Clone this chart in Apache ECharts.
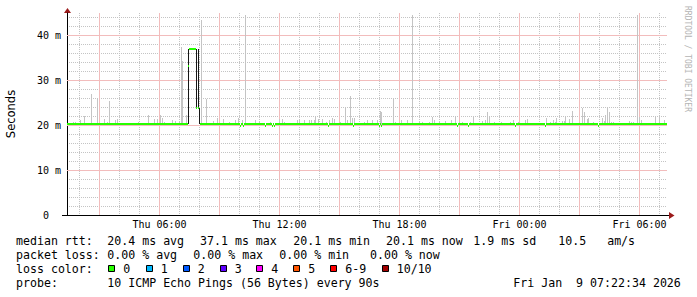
<!DOCTYPE html>
<html><head><meta charset="utf-8">
<script src="https://cdn.jsdelivr.net/npm/echarts@6/dist/echarts.min.js"></script>
<style>html,body{margin:0;padding:0;background:#fff}#c{width:697px;height:297px}</style>
</head><body><div id="c"></div>
<script>
// ---- time axis: hours since Thu 00:00 ----
const startHour = 1 + 22/60 + 34/3600;   // Thu 01:22:34
const endHour = startHour + 30;          // Fri 07:22:34
const stepHours = 0.05;                  // 3 min consolidation step

const xTickHours = [6, 12, 18, 24, 30];
const xTickLabels = ['Thu 06:00', 'Thu 12:00', 'Thu 18:00', 'Fri 00:00', 'Fri 06:00'];
const yTickValues = [0, 10, 20, 30, 40];
const yTickLabels = ['0\u00a0\u00a0', '10 m', '20 m', '30 m', '40 m'];
const yMax = 44.9;

// ---- median rtt (ms): value holds from each time until the next (null = no line) ----
const medianTimes = [1.38, 7.43, 7.48, 7.83, 7.88, 7.93, 7.98, 8.03,
  10.03, 10.08, 10.18, 10.23, 11.28, 11.33, 11.63, 11.68, 11.73, 11.78,
  14.43, 14.48, 15.68, 15.73, 16.98, 17.03, 17.08, 17.13, 20.88, 20.93,
  21.43, 21.48, 23.78, 23.83, 25.28, 25.33, 27.93, 27.98];
const medianValues = [20.2, 33.1, 37.0, 23.8, null, 23.8, null, 20.2,
  19.8, 20.2, 19.8, 20.2, 19.8, 20.2, 19.8, 20.2, 19.8, 20.2,
  19.8, 20.2, 19.8, 20.2, 19.8, 20.2, 19.8, 20.2, 19.8, 20.2,
  19.8, 20.2, 19.8, 20.2, 19.8, 20.2, 19.8, 20.2];

// ---- smoke (ping spread, ms): light grey ----
const smokeFloor = 20.0;
const smokeTimes = [1.68, 1.78, 2.03, 2.23, 2.53, 2.58, 2.73, 2.88, 3.23, 3.38, 3.48, 3.78, 3.88, 4.28, 4.93,
  5.43, 5.73, 5.88, 6.03, 6.13, 6.23, 6.63, 6.78, 6.98, 7.08, 7.13, 7.33, 8.08, 8.33, 8.68, 8.88, 9.18,
  9.48, 9.78, 9.93, 10.13, 10.28, 10.48, 10.78, 10.98, 11.23, 11.53, 11.98, 12.13, 12.23, 12.58, 12.88,
  12.98, 13.23, 13.48, 13.58, 13.73, 13.78, 13.93, 14.13, 14.33, 14.48, 14.63, 14.73, 14.88, 15.03, 15.28,
  15.38, 15.53, 15.63, 15.73, 15.83, 16.23, 16.38, 16.63, 16.88, 17.03, 17.08, 17.28, 17.68, 17.78, 18.08,
  18.38, 18.63, 18.98, 19.13, 19.48, 19.63, 19.73, 19.98, 20.28, 20.58, 20.78, 20.98, 21.13, 21.53, 21.68,
  22.13, 22.28, 22.38, 22.48, 22.73, 23.08, 23.13, 23.53, 23.68, 23.93, 24.28, 24.38, 24.93, 25.08, 25.33,
  25.53, 25.68, 25.78, 25.83, 26.13, 26.23, 26.28, 26.48, 26.63, 27.13, 27.23, 27.38, 27.43, 27.68, 27.98,
  28.13, 28.23, 28.28, 28.38, 28.48, 28.58, 28.68, 29.48, 29.58, 29.68, 29.88, 29.98, 30.08, 30.38, 30.78,
  30.98, 31.23];
const smokeTops = [20.7, 20.7, 21.1, 22.0, 20.5, 26.9, 20.5, 25.9, 21.3, 20.6, 25.4, 21.1, 21.3, 20.5, 20.6,
  22.2, 21.3, 21.3, 22.2, 21.5, 20.7, 21.1, 21.0, 20.6, 37.4, 34.2, 22.2, 43.3, 25.7, 20.9, 21.5, 21.3,
  20.6, 21.1, 21.5, 21.1, 44.4, 20.5, 21.1, 20.6, 20.3, 20.7, 21.3, 21.3, 20.7, 20.5, 21.1,
  21.1, 21.1, 21.1, 21.1, 21.1, 21.7, 21.3, 21.3, 20.7, 21.1, 21.5, 21.3, 20.5, 20.7, 23.9,
  21.1, 26.5, 21.5, 21.5, 20.5, 20.7, 21.1, 21.1, 21.1, 23.2, 22.9, 20.5, 25.8, 20.7, 21.1,
  21.1, 44.4, 20.7, 20.7, 20.7, 21.7, 21.1, 20.7, 21.0, 21.1, 21.7, 20.7, 20.7, 20.7, 21.7,
  21.0, 21.1, 23.0, 21.7, 20.7, 20.7, 20.5, 20.7, 21.1, 20.7, 21.1, 21.3, 20.5, 20.5, 21.5,
  20.7, 21.1, 20.7, 21.5, 21.0, 21.0, 21.7, 21.3, 23.2, 23.7, 23.0, 21.3, 21.5, 20.7, 20.5,
  21.5, 21.0, 22.2, 23.7, 23.0, 20.7, 20.7, 21.0, 20.7, 20.7, 44.4, 21.7, 21.1, 20.5, 21.7,
  21.5, 21.1];

// ---- dense smoke during the latency jump (dark) ----
const darkTimes = [7.43, 7.83, 7.93, 7.98];
const darkLows = [20.2, 23.8, 23.6, 20.2];
const darkHighs = [37.0, 37.0, 37.0, 23.8];

// ---- legend texts ----
const rttLegend = ['median rtt:', '20.4 ms avg', '37.1 ms max', '20.1 ms min', '20.1 ms now', '1.9 ms sd', '10.5\u00a0\u00a0\u00a0am/s'];
const lossLegend = ['packet loss:', '0.00 % avg', '0.00 % max', '0.00 % min', '0.00 % now'];
const lossColorTitle = 'loss color:';
const lossColorLabels = ['0', '1', '2', '3', '4', '5', '6-9', '10/10'];
const lossColors = ['#26ff00', '#00b8ff', '#0059ff', '#5e00ff', '#ff00ff', '#ff5500', '#ff0000', '#a00000'];
const probeLegend = ['probe:', '10 ICMP Echo Pings (56 Bytes) every 90s', 'Fri Jan\u00a0\u00a09 07:22:34 2026'];
const watermark = 'RRDTOOL / TOBI OETIKER';
const yTitle = 'Seconds';

// ================= layout / rendering =================
const G = {left: 67, top: 13, width: 600, height: 202};
const pxPerHour = G.width / (endHour - startHour);
const vMinorMin = 2, vMinorMax = 31, vMinorStep = 1;
const vMajorMin = 3, vMajorMax = 30, vMajorStep = 3;
const minorC = '#c4c4c4', majorC = '#f2bcbc';
const dots = [1, 1];
const mono = '"DejaVu Sans Mono", monospace';

const medianRuns = [];
medianTimes.forEach((t, i) => {
  const v = medianValues[i];
  if (v === null) return;
  const t1 = i + 1 < medianTimes.length ? medianTimes[i + 1] : endHour;
  medianRuns.push([t, v, t1]);
});

function barItem(color) {
  return function (params, api) {
    const t = api.value(0), lo = api.value(1), hi = api.value(2);
    const p0 = api.coord([t, hi]);
    const p1 = api.coord([t + stepHours, lo]);
    const x = Math.round(p0[0]);
    const w = Math.max(1, Math.round(p1[0]) - x);
    const y = Math.round(p0[1]);
    return {type: 'rect', shape: {x: x, y: y, width: w, height: Math.max(1, Math.round(p1[1]) - y)},
      style: {fill: color}};
  };
}

const graphic = [];
graphic.push({type: 'text', x: 11, y: 114, rotation: Math.PI / 2,
  style: {text: yTitle, font: '11.5px "DejaVu Sans"', fill: '#000', align: 'center', verticalAlign: 'middle'}});
graphic.push({type: 'text', x: 687.5, y: 59, rotation: -Math.PI / 2,
  style: {text: watermark, font: '8px ' + mono, fill: '#b4b4b4', align: 'center', verticalAlign: 'middle'}});
graphic.push({type: 'line', shape: {x1: 62, y1: 215.5, x2: 67, y2: 215.5}, style: {stroke: '#000', lineWidth: 1}});
graphic.push({type: 'line', shape: {x1: 667, y1: 215.5, x2: 670, y2: 215.5}, style: {stroke: '#000', lineWidth: 1}});
graphic.push({type: 'polygon', shape: {points: [[64, 13], [67.5, 8], [71, 13]]}, style: {fill: '#9b1a1a'}});
graphic.push({type: 'polygon', shape: {points: [[669, 212], [674.5, 215.5], [669, 219]]}, style: {fill: '#9b1a1a'}});

function legendText(str, x, y) {
  graphic.push({type: 'text', x: x, y: y,
    style: {text: str, font: '11.6px ' + mono, fill: '#000', align: 'left', verticalAlign: 'middle'}});
}
const rowY = [241, 255, 269, 283];
const rttX = [16, 107.3, 200, 293.3, 386, 473.3, 558.3];
rttLegend.forEach((s, i) => legendText(s, rttX[i], rowY[0]));
const lossX = [16, 107.3, 193.3, 279.3, 370];
lossLegend.forEach((s, i) => legendText(s, lossX[i], rowY[1]));
legendText(lossColorTitle, 16, rowY[2]);
const boxX = [108, 145.5, 182.5, 219.5, 256, 293, 330, 381.5];
lossColorLabels.forEach((s, i) => {
  graphic.push({type: 'rect', shape: {x: Math.round(boxX[i]) + 0.5, y: 265.5, width: 6, height: 6},
    style: {fill: lossColors[i], stroke: '#000', lineWidth: 1}});
  legendText(s, boxX[i] + 15.2, rowY[2]);
});
const probeX = [16, 107.3, 513.3];
probeLegend.forEach((s, i) => legendText(s, probeX[i], rowY[3]));

function gridFor(t0, t1) {
  return {left: G.left + (t0 - startHour) * pxPerHour, top: G.top, width: (t1 - t0) * pxPerHour, height: G.height};
}
const hid = {axisLine: {show: false}, axisTick: {show: false}, axisLabel: {show: false}};

const option = {
  animation: false,
  backgroundColor: '#ffffff',
  grid: [
    {left: G.left, top: G.top, width: G.width, height: G.height},   // 0 main
    gridFor(vMinorMin, vMinorMax),                                  // 1 hourly lines
    gridFor(vMajorMin, vMajorMax),                                  // 2 3-hourly lines
    {left: G.left, top: G.top, width: G.width, height: G.height}    // 3 major horizontal lines
  ],
  xAxis: [
    {type: 'value', gridIndex: 0, min: startHour, max: endHour, z: 5,
     splitLine: {show: false}, axisTick: {show: false},
     axisLine: {show: true, lineStyle: {color: '#000', width: 1}},
     axisLabel: {customValues: xTickHours, formatter: v => xTickLabels[xTickHours.indexOf(v)],
       margin: 4, fontSize: 10, fontFamily: mono, color: '#000'}},
    Object.assign({type: 'value', gridIndex: 1, min: vMinorMin, max: vMinorMax, interval: vMinorStep, z: 0,
     splitLine: {show: true, lineStyle: {color: minorC, type: dots, width: 1}}}, hid),
    Object.assign({type: 'value', gridIndex: 2, min: vMajorMin, max: vMajorMax, interval: vMajorStep, z: 1,
     splitLine: {show: true, lineStyle: {color: majorC, type: 'solid', width: 1}}}, hid),
    {type: 'value', gridIndex: 3, min: startHour, max: endHour, show: false}
  ],
  yAxis: [
    {type: 'value', gridIndex: 0, min: 0, max: yMax, interval: 2, z: 0,
     splitLine: {show: true, showMinLine: false, showMaxLine: false,
       lineStyle: {color: minorC, type: dots, width: 1}},
     axisLine: {show: true, lineStyle: {color: '#000', width: 1}},
     axisTick: {show: false},
     axisLabel: {customValues: yTickValues, formatter: v => yTickLabels[yTickValues.indexOf(v)],
       margin: 6, fontSize: 10, fontFamily: mono, color: '#000'}},
    {type: 'value', gridIndex: 1, min: 0, max: 1, show: false},
    {type: 'value', gridIndex: 2, min: 0, max: 1, show: false},
    Object.assign({type: 'value', gridIndex: 3, min: 0, max: yMax, interval: 10, z: 1,
     splitLine: {show: true, showMinLine: false, showMaxLine: false,
       lineStyle: {color: majorC, type: 'solid', width: 1}}}, hid)
  ],
  series: [
    {type: 'custom', name: 'smoke', xAxisIndex: 0, yAxisIndex: 0, z: 2, clip: true,
     encode: {x: 0, y: [1, 2]}, renderItem: barItem('#c4c4c4'),
     data: smokeTimes.map((t, i) => [t, smokeFloor, smokeTops[i]])},
    {type: 'custom', name: 'dense', xAxisIndex: 0, yAxisIndex: 0, z: 3, clip: true,
     encode: {x: 0, y: [1, 2]}, renderItem: barItem('#161616'),
     data: darkTimes.map((t, i) => [t, darkLows[i], darkHighs[i]])},
    {type: 'custom', name: 'median rtt', xAxisIndex: 0, yAxisIndex: 0, z: 4, clip: true,
     encode: {x: [0, 2], y: 1},
     renderItem: function (params, api) {
       const t0 = api.value(0), v = api.value(1), t1 = api.value(2);
       const p0 = api.coord([t0, v]);
       const p1 = api.coord([t1, v]);
       const x = Math.round(p0[0]);
       const y = Math.round(p0[1] - 1);
       return {type: 'rect', shape: {x: x, y: y, width: Math.max(1, Math.round(p1[0]) - x), height: 2},
         style: {fill: lossColors[0]}};
     },
     data: medianRuns}
  ],
  graphic: graphic
};

const chart = echarts.init(document.getElementById('c'), null, {renderer: 'svg', width: 697, height: 297});
chart.setOption(option);
</script>
</body></html>
